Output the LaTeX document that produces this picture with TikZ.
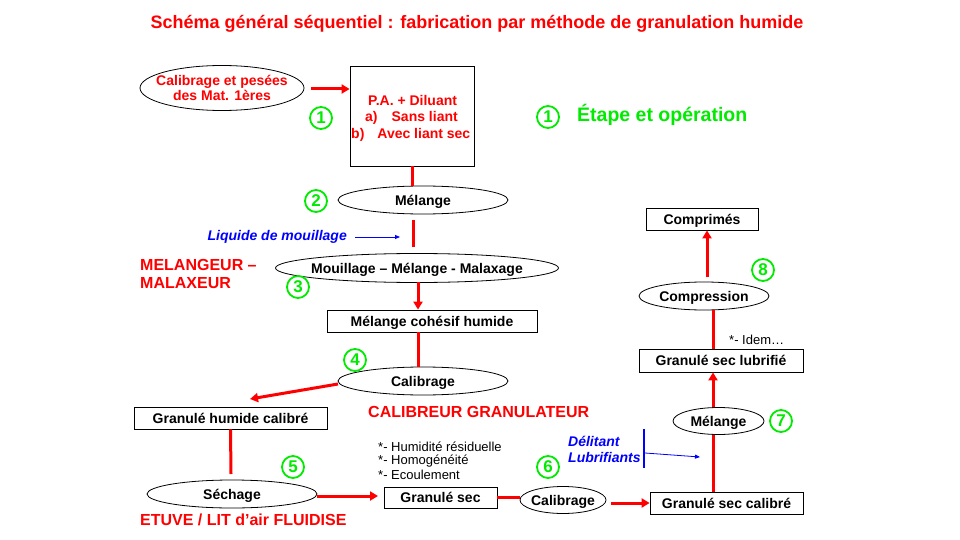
\documentclass[tikz,border=0pt]{standalone}
\usepackage{fontspec}
\setmainfont{Liberation Sans}
\usetikzlibrary{shapes.geometric,arrows.meta,calc}
\definecolor{rd}{RGB}{255,0,0}
\definecolor{gr}{RGB}{0,235,0}
\definecolor{bl}{RGB}{0,0,255}
\tikzset{
  ell/.style={ellipse,draw=black,line width=0.8pt,inner xsep=-4pt,inner ysep=0pt,text depth=0pt,font=\fontsize{14}{16}\selectfont\bfseries},
  bx/.style={rectangle,draw=black,line width=0.8pt,inner sep=0pt,text depth=0pt,font=\fontsize{14}{16}\selectfont\bfseries},
  rline/.style={draw=rd,line width=3pt},
  rarrow/.style={draw=rd,line width=3pt,-{Triangle[length=8pt,width=9pt]}},
  barrow/.style={draw=bl,line width=0.8pt,-{Triangle[length=5pt,width=4pt]}},
  num/.style={circle,draw=gr,line width=1.8pt,minimum size=22pt,inner sep=0pt,text=gr,font=\fontsize{17}{17}\selectfont\bfseries},
  redlbl/.style={text=rd,font=\fontsize{16}{18}\selectfont\bfseries,inner sep=0pt},
  small/.style={font=\fontsize{13}{14}\selectfont,inner sep=0pt,anchor=west},
}
\begin{document}
\begin{tikzpicture}[x=1pt,y=-1pt]
\useasboundingbox[fill=white] (0,0) rectangle (960,540);
% title
\node[text=rd,font=\fontsize{18}{20}\selectfont\bfseries,inner sep=0pt] (title) at (477,24) {Schéma général séquentiel : fabrication par méthode de granulation humide};
% legend
\node[num] (n1b) at (548,117) {1};
\node[text=gr,font=\fontsize{19.5}{20}\selectfont\bfseries,anchor=west,inner sep=0pt] (leg) at (577,115) {Étape et opération};
% step 1
\node[ell,inner xsep=-9pt,text depth=,minimum width=164pt,minimum height=45pt,text=rd,align=center] (calpes) at (222,88) {Calibrage et pesées\\[-1pt]des Mat. 1ères};
\node[bx,minimum width=124pt,minimum height=100pt] (pa) at (412,116) {};
\node[text=rd,font=\fontsize{14}{16.5}\selectfont\bfseries,inner sep=0pt,align=left,anchor=west] (patext) at (351,118) {\hspace*{17pt}P.A.  + Diluant\\\hspace*{14pt}a)\hspace{14pt}Sans liant\\b)\hspace{13pt}Avec liant sec};
\node[num] (n1) at (321,118) {1};
\coordinate (a1s) at (311,89);
\draw[rarrow] (a1s) -- (a1s -| pa.west);
% step 2
\node[ell,minimum width=170pt,minimum height=28pt] (mel1) at (423,200) {Mélange};
\node[num] (n2) at (316,201) {2};
\draw[rline] (pa.south) -- (pa.south |- mel1.north);
\coordinate (l1) at (413,220);
\coordinate (l2) at (413,247);
\draw[rline] (l1) -- (l2);
\node[text=bl,font=\fontsize{14}{16}\selectfont\bfseries\itshape,inner sep=0pt,anchor=east] (liq) at (347,237) {Liquide de mouillage};
\coordinate (liqs) at (355,237);
\coordinate (liqend) at (400,237);
\draw[barrow] (liqs) -- (liqend);
% step 3
\node[ell,inner xsep=-8pt,minimum width=283pt,minimum height=29pt] (mouil) at (417,268) {Mouillage – Mélange - Malaxage};
\node[num] (n3) at (298,287) {3};
\node[redlbl,align=left,anchor=west] (melang) at (140,274) {MELANGEUR –\\MALAXEUR};
\node[bx,minimum width=210pt,minimum height=22pt] (mch) at (432,321) {Mélange cohésif humide};
\coordinate (x3) at (418,282);
\draw[rarrow] (x3) -- (x3 |- mch.north);
% step 4
\node[ell,minimum width=170pt,minimum height=28pt] (cal1) at (423,381) {Calibrage};
\node[num] (n4) at (355,360) {4};
\coordinate (x4) at (418,367);
\draw[rline] (x4 |- mch.south) -- (x4);
\node[redlbl,anchor=west] (calgran) at (368,412) {CALIBREUR GRANULATEUR};
\node[bx,minimum width=193pt,minimum height=22pt] (ghc) at (230.5,418) {Granulé humide calibré};
\coordinate (ghcin) at (250,399);
\coordinate (c1w) at (338,384);
\draw[rarrow] (c1w) -- (ghcin);
% step 5
\node[ell,minimum width=170pt,minimum height=28pt] (sech) at (232,494) {Séchage};
\node[num] (n5) at (293,467) {5};
\coordinate (x5) at (231,474);
\draw[rline] (ghc.south) -- (x5);
\node[redlbl,anchor=west] (etuve) at (140,520) {ETUVE / LIT d’air  FLUIDISE};
\node[bx,minimum width=113pt,minimum height=21pt] (gsec) at (440.5,497.5) {Granulé sec};
\coordinate (s5) at (317,496);
\coordinate (e5) at (378,496);
\draw[rarrow] (s5) -- (e5);
\node[small] (h1) at (378,447) {*- Humidité  résiduelle};
\node[small] (h2) at (378,461) {*- Homogénéité};
\node[small] (h3) at (378,475) {*- Ecoulement};
% step 6
\node[ell,inner xsep=-5pt,minimum width=86pt,minimum height=27pt] (cal2) at (563,500) {Calibrage};
\node[num] (n6) at (548,467) {6};
\draw[rline] (gsec.east) -- (gsec.east -| cal2.west);
\node[bx,minimum width=153pt,minimum height=22pt] (gscal) at (726.5,503) {Granulé sec calibré};
\coordinate (s6) at (611,503);
\draw[rarrow] (s6) -- (gscal.west);
% step 7
\node[ell,minimum width=91pt,minimum height=27pt] (mel2) at (718.5,421) {Mélange};
\node[num] (n7) at (781,421) {7};
\coordinate (x7) at (713,0);
\draw[rline] (x7 |- gscal.north) -- (x7 |- mel2.south);
\node[text=bl,font=\fontsize{14}{16}\selectfont\bfseries\itshape,inner sep=0pt,align=left,anchor=west] (delit) at (568,449) {Délitant\\Lubrifiants};
\coordinate (bt) at (644,429);
\coordinate (bb) at (644,468);
\draw[draw=bl,line width=1.5pt] (bt) -- (bb);
\coordinate (bs) at (645,453);
\coordinate (be) at (700,457);
\draw[barrow] (bs) -- (be);
\node[bx,minimum width=164pt,minimum height=23pt] (gslub) at (721,360.5) {Granulé sec lubrifié};
\draw[rarrow] (x7 |- mel2.north) -- (x7 |- gslub.south);
\node[small] (idem) at (729,340) {*- Idem…};
% step 8
\node[ell,minimum width=130pt,minimum height=28pt] (comp) at (704,296) {Compression};
\node[num] (n8) at (763,270) {8};
\draw[rline] (x7 |- gslub.north) -- (x7 |- comp.south);
\node[bx,minimum width=112pt,minimum height=22pt] (compr) at (702,219) {Comprimés};
\coordinate (x8) at (707,277);
\draw[rarrow] (x8) -- (x8 |- compr.south);
\end{tikzpicture}
\end{document}
